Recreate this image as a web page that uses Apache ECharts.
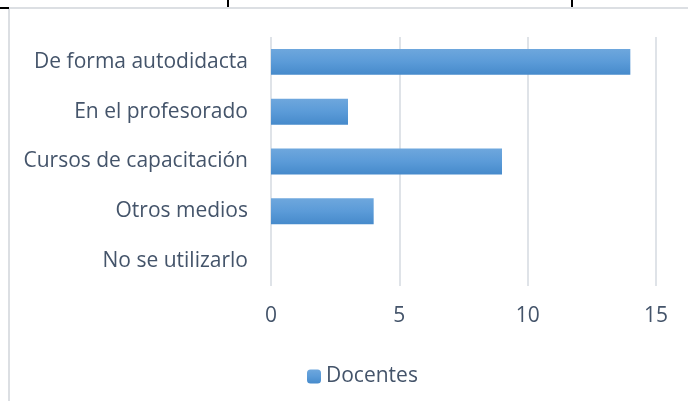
<!DOCTYPE html>
<html>
<head>
<meta charset="utf-8">
<script src="https://cdn.jsdelivr.net/npm/echarts@6/dist/echarts.min.js"></script>
<style>
html, body { margin: 0; padding: 0; background: #ffffff; }
#chart { width: 688px; height: 401px; }
</style>
</head>
<body>
<div id="chart"></div>
<script>
// datos
const categorias = ["De forma autodidacta", "En el profesorado", "Cursos de capacitación", "Otros medios", "No se utilizarlo"]
const docentes = [14, 3, 9, 4, 0]
const serieNombre = "Docentes"

let myChart = echarts.init(document.getElementById("chart"))
const textColor = "#44546a"
const fontFam = "'Open Sans', 'Noto Sans', sans-serif"

let option = {
	animation: false,
	textStyle: { fontFamily: fontFam },
	grid: { left: 271, right: 32, top: 37, bottom: 115 },
	legend: {
		data: [serieNombre],
		left: 302,
		top: 361,
		itemWidth: 14,
		itemHeight: 14,
		itemGap: 6,
		textStyle: { color: textColor, fontSize: 21, fontFamily: fontFam },
	},
	xAxis: {
		type: "value",
		min: 0,
		max: 15,
		interval: 5,
		axisLine: { show: false },
		axisTick: { show: false },
		axisLabel: { color: textColor, fontSize: 21, margin: 20 },
		splitLine: { lineStyle: { color: "#dfe3e8", width: 2 } },
	},
	yAxis: {
		type: "category",
		data: categorias,
		inverse: true,
		axisLine: { show: false },
		axisTick: { show: false },
		axisLabel: { color: textColor, fontSize: 21, margin: 23 },
	},
	series: [
		{
			name: serieNombre,
			type: "bar",
			data: docentes,
			barWidth: "52%",
			itemStyle: {
				color: new echarts.graphic.LinearGradient(0, 0, 0, 1, [
					{ offset: 0, color: "#6ea7dd" },
					{ offset: 0.5, color: "#5b9bd8" },
					{ offset: 1, color: "#468acb" },
				]),
			},
		},
	],
	graphic: [
		// bordes del recuadro
		{ type: "line", shape: { x1: 9, y1: 8, x2: 688, y2: 8 }, style: { stroke: "#dcdfe3", lineWidth: 2 } },
		{ type: "line", shape: { x1: 9, y1: 8, x2: 9, y2: 401 }, style: { stroke: "#dcdfe3", lineWidth: 2 } },
		{ type: "line", shape: { x1: 0, y1: 8, x2: 9, y2: 8 }, style: { stroke: "#000", lineWidth: 2 } },
		{ type: "line", shape: { x1: 228, y1: 0, x2: 228, y2: 7 }, style: { stroke: "#000", lineWidth: 2 } },
		{ type: "line", shape: { x1: 572, y1: 0, x2: 572, y2: 7 }, style: { stroke: "#000", lineWidth: 2 } },
	],
}
myChart.setOption(option)
</script>
</body>
</html>
